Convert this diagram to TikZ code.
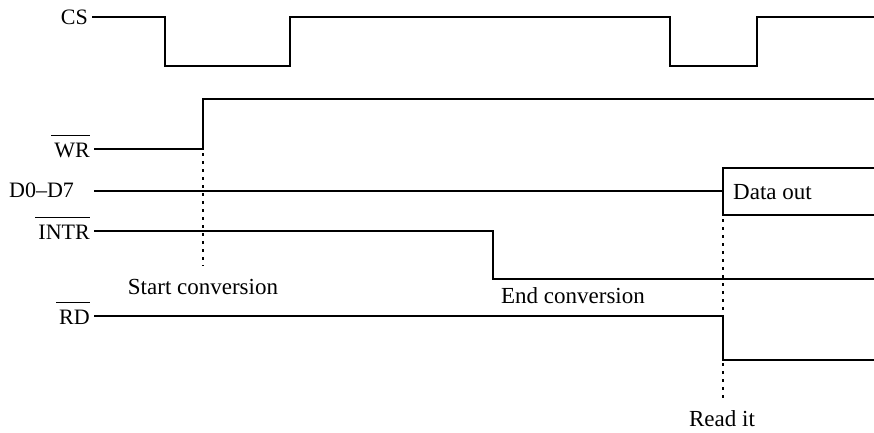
\documentclass[tikz,border=0pt]{standalone}
\usepackage{fontspec}
\setmainfont{Liberation Serif}
\begin{document}
\begin{tikzpicture}[x=1pt,y=-1pt,
  wave/.style={line width=2pt,line join=miter},
  marker/.style={line width=2pt,dash pattern=on 2.5pt off 5.5pt},
  bar/.style={line width=1.6pt},
  sig/.style={font=\fontsize{22}{26}\selectfont,inner sep=0pt},
  note/.style={font=\fontsize{23}{27}\selectfont,inner sep=0pt}]
\useasboundingbox (0,0) rectangle (874,432);

% signal names
\node[sig,anchor=east] (cs)   at (88,17)  {CS};
\node[sig,anchor=east] (wr)   at (90,150) {WR};
\node[sig,anchor=west] (data) at (9,190)  {D0--D7};
\node[sig,anchor=east] (intr) at (90,232) {INTR};
\node[sig,anchor=east] (rd)   at (90,317) {RD};

% active-low bars over the names
\foreach \n in {wr,intr,rd}
  \draw[bar] ([shift={(-3,-7)}]\n.north west) -- ([shift={(0,-7)}]\n.north east);

% waveforms
\draw[wave] (92,17) -- (165,17) -- (165,66) -- (290,66) -- (290,17)
  -- (670,17) -- (670,66) -- (757,66) -- (757,17) -- (875,17);
\draw[wave] (94,149) -- (203,149) -- (203,99) -- (875,99);
\draw[wave] (94,191) -- (723,191);
\draw[wave] (875,168) -- (723,168) -- (723,215) -- (875,215);
\draw[wave] (94,231) -- (493,231) -- (493,279) -- (875,279);
\draw[wave] (94,316) -- (723,316) -- (723,360) -- (875,360);

% event markers
\draw[marker] (203,153) -- (203,266);
\draw[marker] (723,219) -- (723,398);

% annotations
\node[note,anchor=west] (dout) at (733,192) {Data out};
\node[note] (start) at (203,287) {Start conversion};
\node[note] (eoc)   at (573,296) {End conversion};
\node[note] (read)  at (722,419) {Read it};
\end{tikzpicture}
\end{document}
